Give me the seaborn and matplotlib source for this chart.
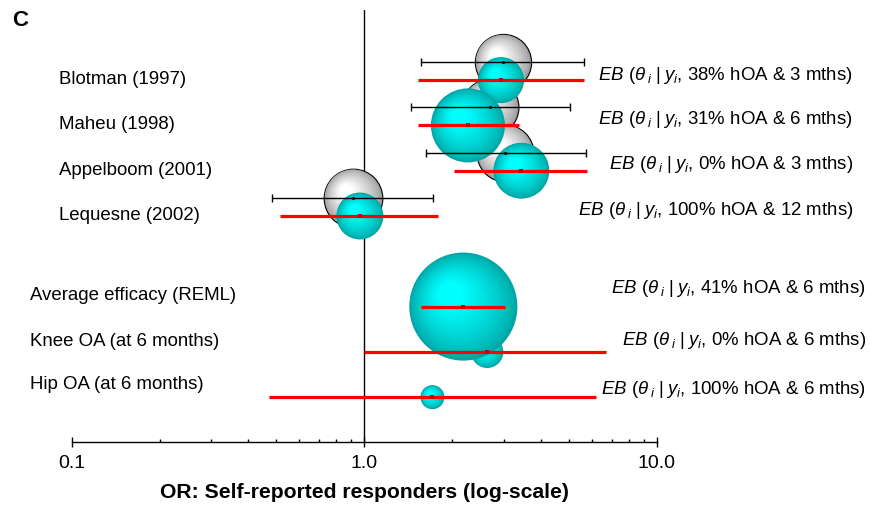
import numpy as np
import matplotlib
matplotlib.use("Agg")
import matplotlib.pyplot as plt
import matplotlib.transforms as mtransforms
from matplotlib.colors import to_rgb
from matplotlib.ticker import LogLocator, NullFormatter
import seaborn as sns

# ---------------------------------------------------------------- data
studies = ["Blotman (1997)", "Maheu (1998)", "Appelboom (2001)", "Lequesne (2002)"]
summaries = ["Average efficacy (REML)", "Knee OA (at 6 months)", "Hip OA (at 6 months)"]

# observed odds ratios per trial with 95% CI and precision weight
obs_or = [2.98, 2.69, 3.03, 0.917]
obs_lo = [1.56, 1.44, 1.62, 0.484]
obs_hi = [5.64, 5.05, 5.73, 1.72]
obs_weight = [7.9, 8.1, 8.1, 8.6]

# empirical Bayes estimates (trials, then pooled / subgroup predictions)
eb_or = [2.93, 2.26, 3.44, 0.966, 2.18, 2.63, 1.71]
eb_lo = [1.53, 1.53, 2.03, 0.517, 1.565, 1.00, 0.474]
eb_hi = [5.64, 3.38, 5.77, 1.79, 3.02, 6.68, 6.18]
eb_weight = [5.3, 13.7, 7.8, 5.5, 29.2, 2.6, 1.44]

hoa_pct = [38, 31, 0, 100, 41, 0, 100]
months = [3, 6, 3, 12, 6, 6, 6]

tick_values = [0.1, 1.0, 10.0]
tick_labels = ["0.1", "1.0", "10.0"]

# ---------------------------------------------------------------- layout
DPI = 100
FS = 13.4
study_rows = [0, 1, 2, 3]
summary_rows = [5, 6, 7]
EB_SHIFT = 0.4
study_label_shift = 0.39
summary_label_shift = [0.16, 0.17, 0.12]
eb_text_rows = [0.29, 1.28, 2.27, 3.27, 5.01, 6.14, 7.24]
eb_text_right = [853, 853, 853, 853, 866, 866, 866]

sns.set_theme(style="white")
plt.rcParams["font.family"] = ["Liberation Sans", "DejaVu Sans"]
plt.rcParams["mathtext.fontset"] = "custom"
plt.rcParams["mathtext.rm"] = "Liberation Sans"
plt.rcParams["mathtext.it"] = "Liberation Sans:italic"
plt.rcParams["mathtext.bf"] = "Liberation Sans:bold"

fig = plt.figure(figsize=(8.71, 5.07), dpi=DPI)
fig.patch.set_facecolor("white")
ax = fig.add_axes([0.0821, 0.1282, 0.6722, 0.8521])
ax.set_facecolor("white")
ax.set_xscale("log")
ax.set_xlim(0.1, 10)
ax.set_ylim(8.39, -1.148)

ax.axvline(1.0, color="black", lw=1.0, zorder=1)


def sphere(x, y, weight, edge, centre, z, outline=None, layers=18):
    """Shaded ball: a seaborn base disc plus lighter inner discs nudged up-left."""
    r_pt = 10 * np.sqrt(weight) * 72 / DPI
    edge = np.array(to_rgb(edge))
    centre = np.array(to_rgb(centre))
    sns.scatterplot(x=[x], y=[y], s=(2 * r_pt) ** 2, color=edge,
                    edgecolor=outline if outline else "none",
                    linewidth=0.8 if outline else 0, zorder=z, ax=ax, legend=False)
    for k in range(1, layers):
        f = 1 - 0.82 * k / layers
        t = (k / (layers - 1)) ** 0.75
        col = edge * (1 - t) + centre * t
        shift = (1 - f) * r_pt * 0.3
        tr = mtransforms.offset_copy(ax.transData, fig=fig, x=-shift, y=shift, units="points")
        ax.scatter([x], [y], s=(2 * f * r_pt) ** 2, color=[col], edgecolors="none",
                   transform=tr, zorder=z + k * 1e-3)


# observed-effect balls (grey, outlined)
for i, row in enumerate(study_rows):
    sphere(obs_or[i], row, obs_weight[i], "#9c9c9c", "#ffffff", z=2 + i * 0.05,
           outline="black")

# EB balls (cyan); larger balls drawn on top
eb_rows = [r + EB_SHIFT for r in study_rows + summary_rows]
order = np.argsort(eb_weight)
for rank, i in enumerate(order):
    sphere(eb_or[i], eb_rows[i], eb_weight[i], "#00a6a6", "#00ffff", z=3 + rank * 0.05)

# observed 95% CIs
obs_or_a = np.array(obs_or)
ax.errorbar(obs_or, study_rows,
            xerr=[obs_or_a - np.array(obs_lo), np.array(obs_hi) - obs_or_a],
            fmt="none", ecolor="black", elinewidth=1.0, capsize=3.2, capthick=1.0, zorder=10)
ax.scatter(obs_or, study_rows, s=5, color="black", zorder=11, linewidths=0)

# EB intervals
ax.hlines(eb_rows, eb_lo, eb_hi, color="#ff0000", lw=2.3, zorder=10)
ax.scatter(eb_or, eb_rows, s=6, marker="s", color="#c00000", zorder=11, linewidths=0)

# axis styling
for side in ["left", "right", "top"]:
    ax.spines[side].set_visible(False)
ax.spines["bottom"].set_color("black")
ax.spines["bottom"].set_linewidth(1.0)
ax.set_yticks([])
ax.set_xticks(tick_values)
ax.set_xticklabels(tick_labels)
ax.xaxis.set_minor_locator(LogLocator(base=10, subs=np.arange(2, 10)))
ax.xaxis.set_minor_formatter(NullFormatter())
ax.tick_params(axis="x", which="major", bottom=True, direction="inout", length=7,
               width=1.0, color="black", pad=5.5, labelsize=14, labelcolor="black")
ax.tick_params(axis="x", which="minor", bottom=True, direction="in", length=2.5,
               width=1.0, color="black")
ax.set_xlabel("OR: Self-reported responders (log-scale)", fontsize=15.2,
              fontweight="bold", labelpad=8, color="black")

# row labels
lab_tr = mtransforms.blended_transform_factory(fig.transFigure, ax.transData)
for name, row in zip(studies, study_rows):
    ax.text(59 / 871, row + study_label_shift, name, transform=lab_tr, fontsize=FS,
            ha="left", va="center", color="black")
for name, row, sh in zip(summaries, summary_rows, summary_label_shift):
    ax.text(30 / 871, row + sh, name, transform=lab_tr, fontsize=FS,
            ha="left", va="center", color="black")

for pct, mth, yrow, xr in zip(hoa_pct, months, eb_text_rows, eb_text_right):
    txt = r"$EB$ ($\theta_{\;i}\;$|$\;y_{i}$, " + f"{pct}% hOA & {mth} mths)"
    ax.text(xr / 871, yrow, txt, transform=lab_tr, fontsize=FS, ha="right",
            va="center", color="black")

fig.text(12 / 871, 1 - 20 / 507, "C", fontsize=16, fontweight="bold", va="center",
         ha="left", color="black")

fig.savefig("out.png", dpi=DPI, facecolor="white")
